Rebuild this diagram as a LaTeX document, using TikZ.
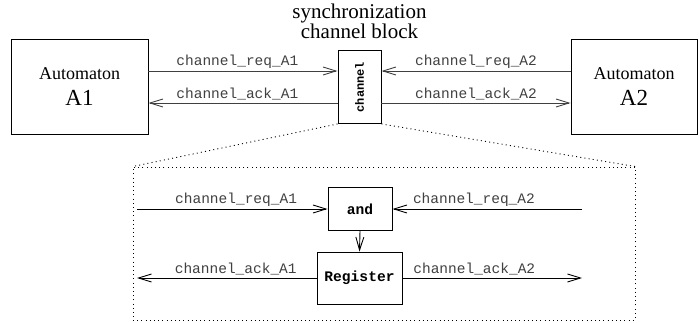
\documentclass[tikz,border=0pt]{standalone}
\usepackage{fontspec}
\setmainfont{Liberation Serif}
\setmonofont{Liberation Mono}
\usetikzlibrary{arrows.meta,positioning}

\begin{document}
\begin{tikzpicture}[x=1pt,y=1pt,>={Straight Barb[length=13pt,width=8pt]},line width=0.9pt]

    \tikzstyle{block}=[draw=black,inner sep=0pt]
    \tikzstyle{sig}=[font=\fontsize{14.5}{16}\selectfont\ttfamily,text=black!75,above,inner sep=2.5pt]
    \tikzstyle{wire}=[->,draw=black!75]
    \tikzstyle{zoomline}=[draw=black,dash pattern=on 1pt off 3.2pt]
    \tikzstyle{unit}=[block,font=\fontsize{14.6}{16}\selectfont\ttfamily\bfseries]

    \useasboundingbox (0,0) rectangle (699,322);

    % automata and channel block
    \node[block,minimum width=137pt,minimum height=95pt,align=center,
          font=\fontsize{18}{26}\selectfont] (A1) at (79.5,235)
          {Automaton\\{\fontsize{23}{26}\selectfont A1}};
    \node[block,minimum width=126pt,minimum height=95pt,align=center,
          font=\fontsize{18}{26}\selectfont] (A2) at (634,235)
          {Automaton\\{\fontsize{23}{26}\selectfont A2}};
    \node[block,minimum width=43pt,minimum height=73pt,
          font=\fontsize{12}{14}\selectfont\ttfamily\bfseries] (ch) at (359.5,235)
          {\rotatebox{90}{channel}};
    \node[align=center,inner sep=0pt,font=\fontsize{21}{20}\selectfont,
          above=11pt of ch] (title) {synchronization\\channel block};

    \draw[wire] ([yshift=16pt]A1.east) -- ([yshift=16pt]ch.west) node[sig,pos=0.47] {channel\_req\_A1};
    \draw[wire] ([yshift=-16pt]ch.west) -- ([yshift=-16pt]A1.east) node[sig,pos=0.53] {channel\_ack\_A1};
    \draw[wire] ([yshift=16pt]A2.west) -- ([yshift=16pt]ch.east) node[sig,pos=0.5] {channel\_req\_A2};
    \draw[wire] ([yshift=-16pt]ch.east) -- ([yshift=-16pt]A2.west) node[sig,pos=0.5] {channel\_ack\_A2};

    % zoomed view of the channel
    \node[zoomline,minimum width=502pt,minimum height=153pt] (zoom) at (384,78.5) {};
    \draw[zoomline] (ch.south west) -- (zoom.north west);
    \draw[zoomline] (ch.south east) -- (zoom.north east);

    \node[unit,minimum width=64pt,minimum height=43pt] (and) at (360,113) {and};
    \node[unit,minimum width=85pt,minimum height=52pt] (reg) at (359.5,44) {Register};

    \coordinate (inA1) at (137,113);
    \coordinate (inA2) at (582,113);
    \coordinate (outA1) at (137,44);
    \coordinate (outA2) at (582,44);

    \draw[->,draw=black] (inA1) -- (and.west) node[sig,pos=0.52] {channel\_req\_A1};
    \draw[->,draw=black] (inA2) -- (and.east) node[sig,pos=0.57] {channel\_req\_A2};
    \draw[->,draw=black] (reg.west) -- (outA1) node[sig,pos=0.45] {channel\_ack\_A1};
    \draw[->,draw=black] (reg.east) -- (outA2) node[sig,pos=0.4] {channel\_ack\_A2};
    \draw[->,draw=black] (and.south) -- (reg.north);

\end{tikzpicture}
\end{document}
